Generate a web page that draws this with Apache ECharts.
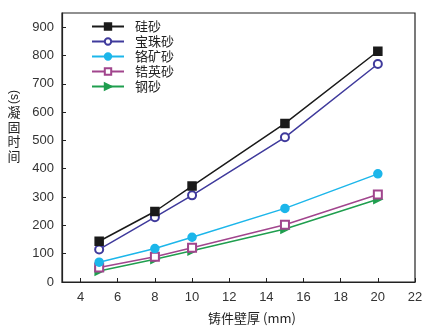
<!DOCTYPE html>
<html><head><meta charset="utf-8">
<script src="https://cdn.jsdelivr.net/npm/echarts@6/dist/echarts.min.js"></script>
<style>html,body{margin:0;padding:0;background:#fff}#c{width:440px;height:330px}</style>
</head><body><div id="c"></div>
<script>
const thickness = [5, 8, 10, 15, 20];
const seriesNames = ['硅砂', '宝珠砂', '铬矿砂', '锆英砂', '钢砂'];
const silica   = [144, 249, 339, 560, 815];
const pearl    = [115, 229, 306, 511, 770];
const chromite = [70, 118, 158, 260, 382];
const zircon   = [51, 89, 121, 202, 309];
const steel    = [39, 80, 110, 187, 292];
const xTicks = [4, 6, 8, 10, 12, 14, 16, 18, 20, 22];
const yTicks = [0, 100, 200, 300, 400, 500, 600, 700, 800, 900];
const yNameChars = ['凝', '固', '时', '间'];

const values = [silica, pearl, chromite, zircon, steel];
const colors = ['#1a1a1a', '#3f3a9c', '#1cb6ea', '#a1458d', '#1f9e4e'];
const symbols = ['rect', 'emptyCircle', 'circle', 'emptyRect', 'triangle'];
const rotates = [0, 0, 0, 0, -90];
const sizes = [8, 8, 8, 8, 8];

const font = '"Liberation Sans", Arial, sans-serif';
const cjk = '"Noto Sans CJK SC", sans-serif';
const graphics = [
  { type: 'text', x: 14, y: 97, rotation: -Math.PI / 2, style: { text: '(s)', fontSize: 12, fill: '#222', fontFamily: font, align: 'center', verticalAlign: 'middle' } }
].concat(yNameChars.map((ch, i) => ({
  type: 'text', x: 14, y: 112 + i * 14.7, rotation: 0,
  style: { text: ch, fontSize: 13, fill: '#222', fontFamily: cjk, align: 'center', verticalAlign: 'middle' }
})));

const chart = echarts.init(document.getElementById('c'));
chart.setOption({
  animation: false,
  backgroundColor: '#fff',
  grid: { left: 62, right: 25, top: 13, bottom: 48, show: true, borderColor: '#222', borderWidth: 1.2 },
  legend: {
    orient: 'vertical', left: 91, top: 20, padding: 0,
    itemWidth: 32, itemHeight: 8, itemGap: 2,
    textStyle: { fontSize: 13, color: '#222', fontFamily: cjk, padding: [0, 0, 0, 6] },
    data: seriesNames
  },
  xAxis: {
    type: 'value', min: 3, max: 22,
    name: '铸件壁厚 (mm)', nameLocation: 'middle', nameGap: 30,
    nameTextStyle: { fontSize: 13, color: '#222', fontFamily: cjk, padding: [0, 0, 0, 27] },
    axisLine: { lineStyle: { color: '#222', width: 1.2 } },
    axisTick: { inside: true, length: 4, customValues: xTicks, lineStyle: { color: '#222' } },
    axisLabel: { customValues: xTicks, fontSize: 13, color: '#333', margin: 9, fontFamily: font },
    splitLine: { show: false }
  },
  yAxis: {
    type: 'value', min: 0, max: 950,
    axisLine: { show: true, lineStyle: { color: '#222', width: 1.2 } },
    axisTick: { show: true, inside: true, length: 4, customValues: yTicks, lineStyle: { color: '#222' } },
    axisLabel: { customValues: yTicks, fontSize: 13, color: '#333', margin: 8, fontFamily: font },
    splitLine: { show: false }
  },
  graphic: graphics,
  series: seriesNames.map((n, i) => ({
    name: n, type: 'line',
    data: thickness.map((x, j) => [x, values[i][j]]),
    symbol: symbols[i], symbolSize: sizes[i], symbolRotate: rotates[i],
    lineStyle: { color: colors[i], width: 1.5 },
    itemStyle: { color: colors[i], borderColor: colors[i], borderWidth: 1.5 },
    z: 10 - i
  }))
});
</script></body></html>
